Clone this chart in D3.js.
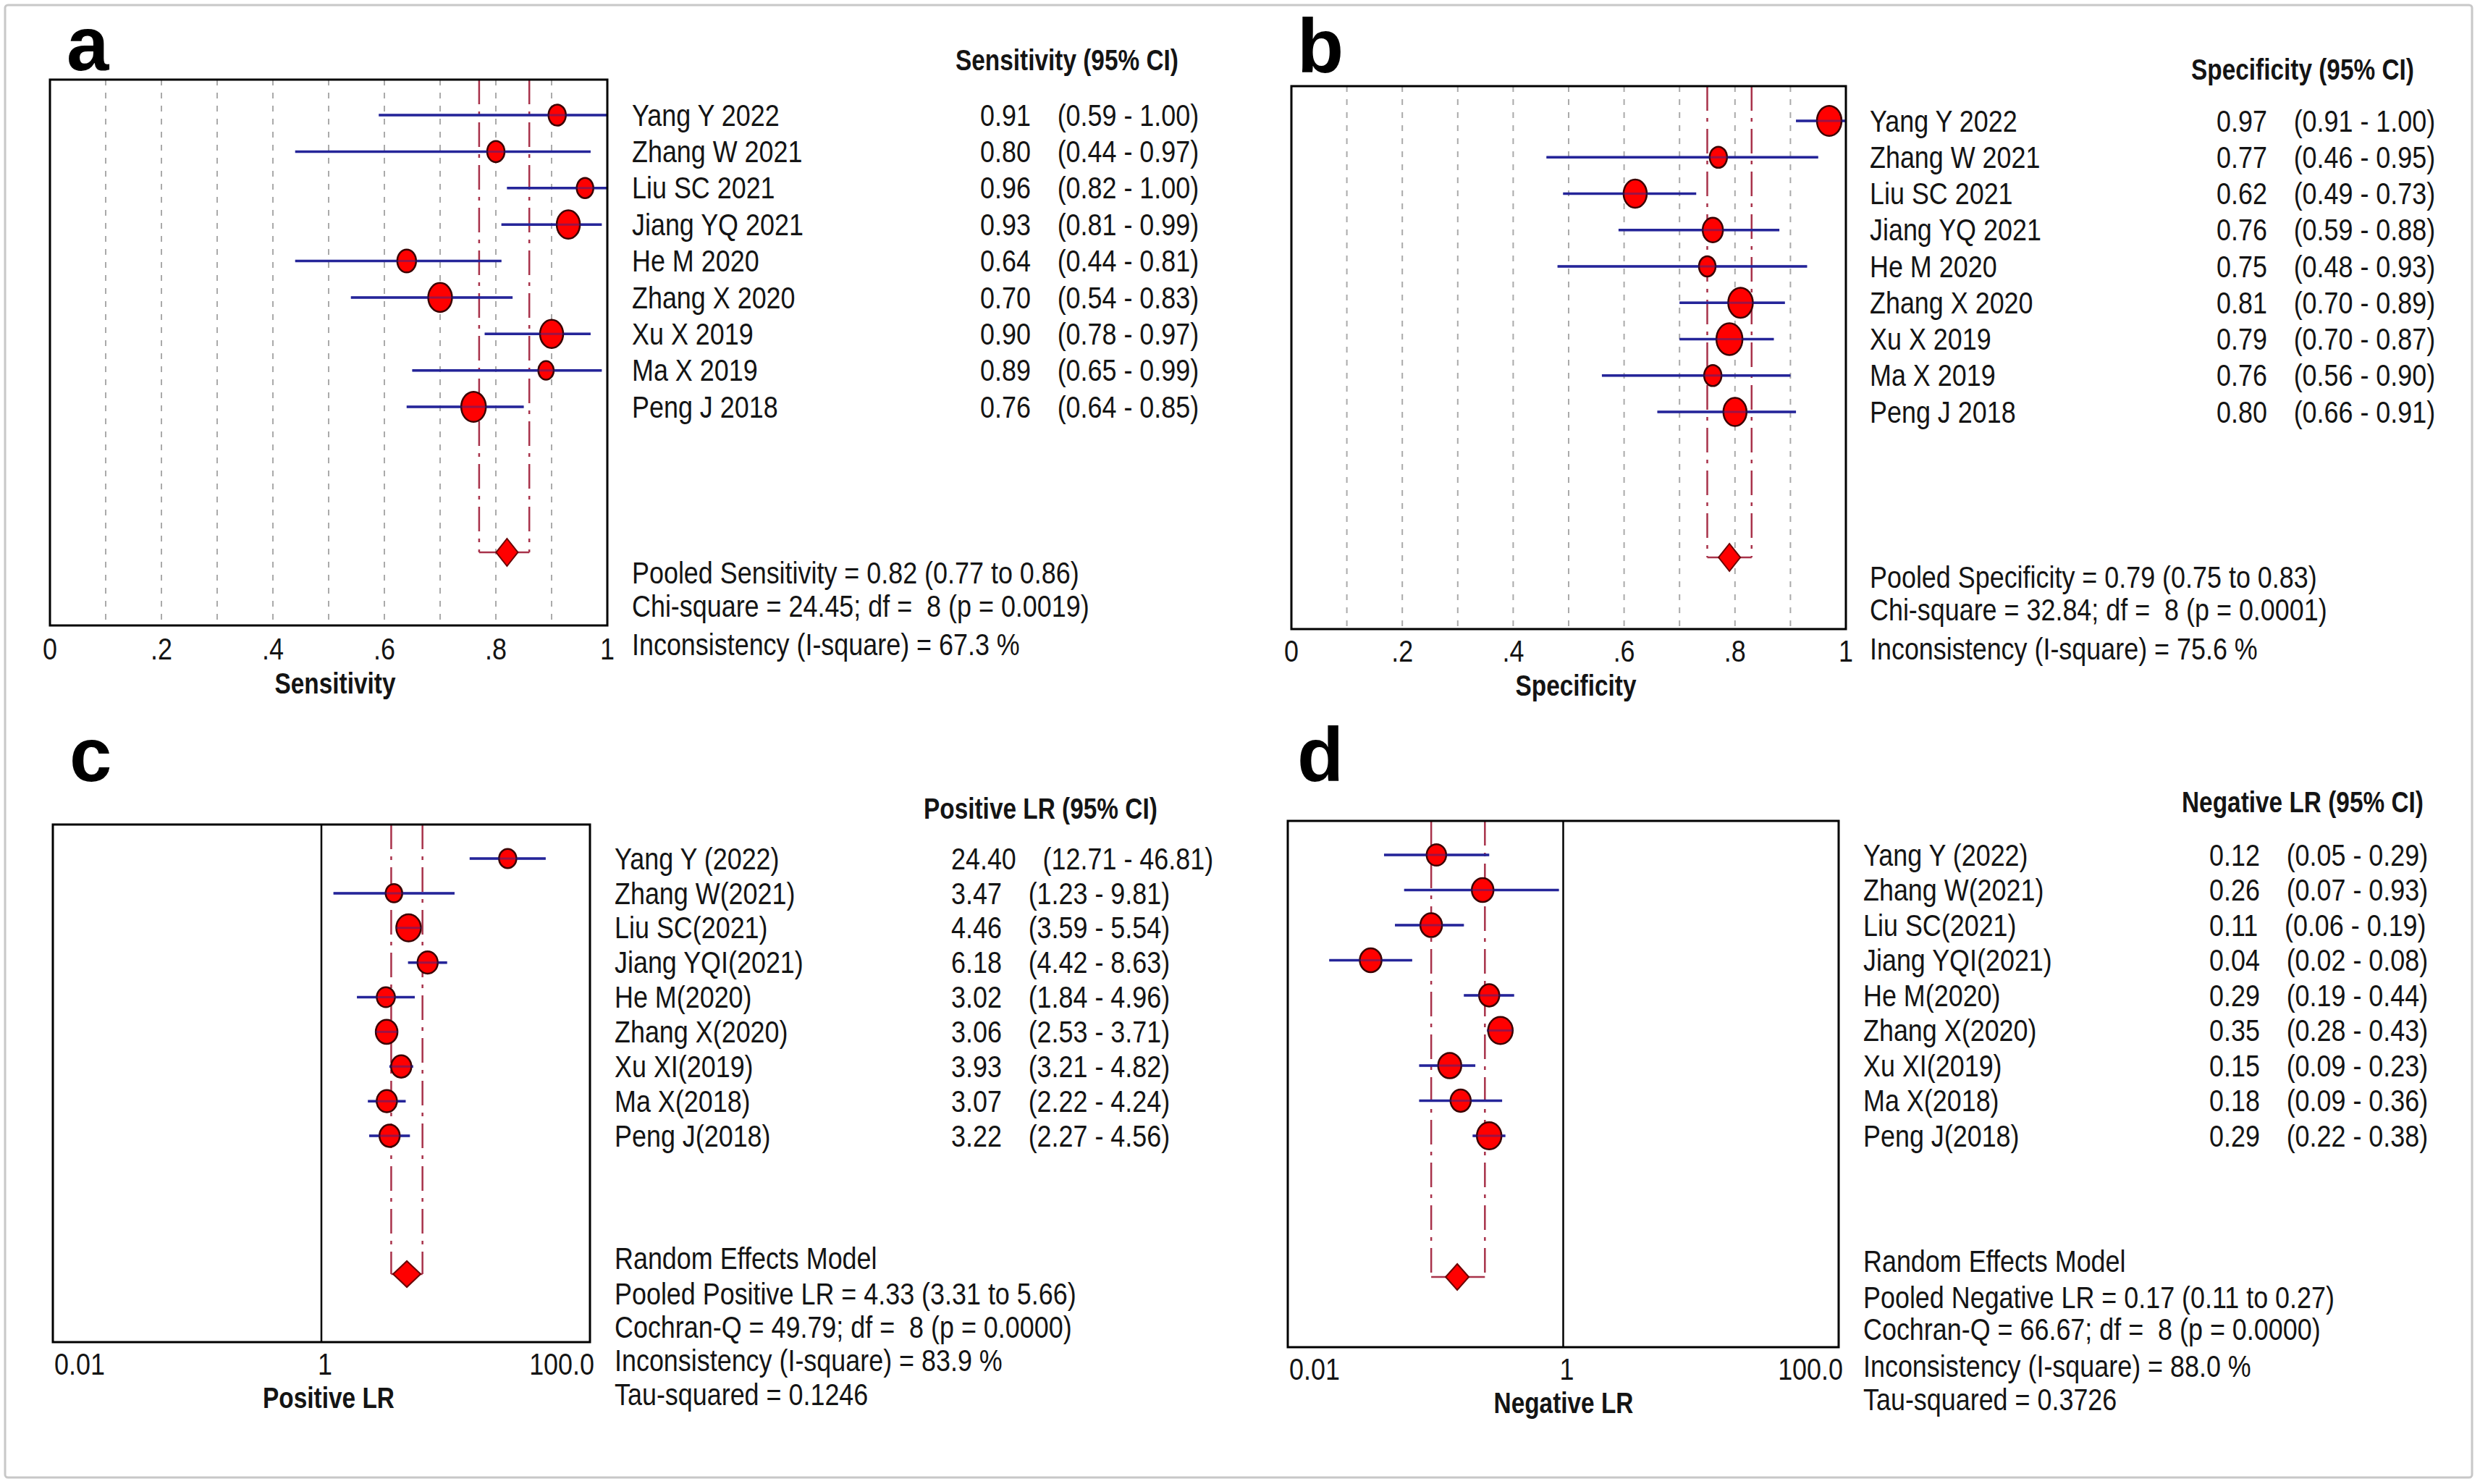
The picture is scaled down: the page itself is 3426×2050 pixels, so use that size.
<!DOCTYPE html>
<html>
<head>
<meta charset="utf-8">
<script src="https://cdn.jsdelivr.net/npm/d3@7"></script>
<style>
  html, body { margin: 0; padding: 0; background: #fff; }
  text { font-family: "Liberation Sans", Arial, sans-serif; white-space: pre; }
</style>
</head>
<body>
<svg id="fig" width="3426" height="2050"></svg>
<script>
// ---- data ----
var studiesAB = ["Yang Y 2022", "Zhang W 2021", "Liu SC 2021", "Jiang YQ 2021", "He M 2020",
  "Zhang X 2020", "Xu X 2019", "Ma X 2019", "Peng J 2018"];
var studiesCD = ["Yang Y (2022)", "Zhang W(2021)", "Liu SC(2021)", "Jiang YQI(2021)", "He M(2020)",
  "Zhang X(2020)", "Xu XI(2019)", "Ma X(2018)", "Peng J(2018)"];

var sensEst = [0.91, 0.80, 0.96, 0.93, 0.64, 0.70, 0.90, 0.89, 0.76];
var sensLow = [0.59, 0.44, 0.82, 0.81, 0.44, 0.54, 0.78, 0.65, 0.64];
var sensHigh = [1.00, 0.97, 1.00, 0.99, 0.81, 0.83, 0.97, 0.99, 0.85];
var sensWeight = [7.4, 7.4, 6.8, 13.2, 8.7, 13.9, 13.2, 5.8, 14.9];
var sensPooled = [0.82, 0.77, 0.86];
var sensStats = ["Pooled Sensitivity = 0.82 (0.77 to 0.86)",
  "Chi-square = 24.45; df =  8 (p = 0.0019)",
  "Inconsistency (I-square) = 67.3 %"];

var specEst = [0.97, 0.77, 0.62, 0.76, 0.75, 0.81, 0.79, 0.76, 0.80];
var specLow = [0.91, 0.46, 0.49, 0.59, 0.48, 0.70, 0.70, 0.56, 0.66];
var specHigh = [1.00, 0.95, 0.73, 0.88, 0.93, 0.89, 0.87, 0.90, 0.91];
var specWeight = [14.9, 7.4, 13.2, 10.1, 6.8, 14.9, 16.7, 7.4, 13.2];
var specPooled = [0.79, 0.75, 0.83];
var specStats = ["Pooled Specificity = 0.79 (0.75 to 0.83)",
  "Chi-square = 32.84; df =  8 (p = 0.0001)",
  "Inconsistency (I-square) = 75.6 %"];

var plrEst = [24.40, 3.47, 4.46, 6.18, 3.02, 3.06, 3.93, 3.07, 3.22];
var plrLow = [12.71, 1.23, 3.59, 4.42, 1.84, 2.53, 3.21, 2.22, 2.27];
var plrHigh = [46.81, 9.81, 5.54, 8.63, 4.96, 3.71, 4.82, 4.24, 4.56];
var plrWeight = [7.4, 6.8, 14.9, 10.1, 8.1, 11.6, 10.1, 10.1, 10.1];
var plrPooled = [4.33, 3.31, 5.66];
var plrStats = ["Random Effects Model",
  "Pooled Positive LR = 4.33 (3.31 to 5.66)",
  "Cochran-Q = 49.79; df =  8 (p = 0.0000)",
  "Inconsistency (I-square) = 83.9 %",
  "Tau-squared = 0.1246"];

var nlrEst = [0.12, 0.26, 0.11, 0.04, 0.29, 0.35, 0.15, 0.18, 0.29];
var nlrLow = [0.05, 0.07, 0.06, 0.02, 0.19, 0.28, 0.09, 0.09, 0.22];
var nlrHigh = [0.29, 0.93, 0.19, 0.08, 0.44, 0.43, 0.23, 0.36, 0.38];
var nlrWeight = [9.4, 11.6, 11.6, 11.6, 10.1, 14.9, 13.2, 10.1, 14.9];
var nlrPooled = [0.17, 0.11, 0.27];
var nlrStats = ["Random Effects Model",
  "Pooled Negative LR = 0.17 (0.11 to 0.27)",
  "Cochran-Q = 66.67; df =  8 (p = 0.0000)",
  "Inconsistency (I-square) = 88.0 %",
  "Tau-squared = 0.3726"];

var propTicks = [0, 0.2, 0.4, 0.6, 0.8, 1];
var propTickLabels = ["0", ".2", ".4", ".6", ".8", "1"];
var propGrid = [0.1, 0.2, 0.3, 0.4, 0.5, 0.6, 0.7, 0.8, 0.9];
var lrTicks = [0.01, 1, 100];
var lrTickLabels = ["0.01", "1", "100.0"];

// ---- drawing ----
var svg = d3.select("#fig");
var ciBlue = "#25259a";
var pooledRed = "#a8324a";
var ink = "#141414";
var radius = d3.scaleSqrt().domain([0, 20]).range([0, 19.7]);

svg.append("rect")
  .attr("x", 7).attr("y", 7).attr("width", 3408).attr("height", 2034)
  .attr("rx", 4).attr("fill", "#fff")
  .attr("stroke", "#c8c8c8").attr("stroke-width", 3);

function txt(g, x, y, s, o) {
  o = o || {};
  return g.append("text")
    .attr("transform", "translate(" + x + "," + y + ") scale(" + (o.sx || 0.855) + ",1)")
    .attr("dy", "0.35em")
    .attr("font-size", o.size || 42)
    .attr("font-weight", o.bold ? "bold" : null)
    .attr("text-anchor", o.anchor || "start")
    .attr("fill", ink)
    .text(s);
}

function ciText(lo, hi) {
  return "(" + lo.toFixed(2) + " - " + hi.toFixed(2) + ")";
}

function drawPanel(cfg) {
  var g = svg.append("g");
  var x = cfg.log
    ? d3.scaleLog().domain([0.01, 100]).range([cfg.x0, cfg.x1])
    : d3.scaleLinear().domain([0, 1]).range([cfg.x0, cfg.x1]);
  var y = d3.scalePoint().domain(cfg.studies).range([cfg.rowTop, cfg.rowBottom]);

  // panel letter
  g.append("text")
    .attr("x", cfg.letterX).attr("y", cfg.letterY)
    .attr("font-family", "'Open Sans', sans-serif")
    .attr("font-weight", "bold")
    .attr("font-size", 105)
    .attr("fill", "#000")
    .text(cfg.letter);

  // gridlines (proportion panels) or the line of no effect (LR panels)
  if (!cfg.log) {
    g.selectAll(".grid").data(propGrid).enter().append("line")
      .attr("x1", function (d) { return x(d); })
      .attr("x2", function (d) { return x(d); })
      .attr("y1", cfg.y0).attr("y2", cfg.y1)
      .attr("stroke", "#aaaaaa").attr("stroke-width", 2)
      .attr("stroke-dasharray", "8,10");
  } else {
    g.append("line")
      .attr("x1", x(1)).attr("x2", x(1))
      .attr("y1", cfg.y0).attr("y2", cfg.y1)
      .attr("stroke", "#000").attr("stroke-width", 2.5);
  }

  // pooled CI guide lines
  var pooled = cfg.pooled;
  [pooled[1], pooled[2]].forEach(function (v) {
    g.append("line")
      .attr("x1", x(v)).attr("x2", x(v))
      .attr("y1", cfg.y0).attr("y2", cfg.pooledY)
      .attr("stroke", pooledRed).attr("stroke-width", 2.5)
      .attr("stroke-dasharray", "34,10,5,10");
  });
  g.append("line")
    .attr("x1", x(pooled[1])).attr("x2", x(pooled[2]))
    .attr("y1", cfg.pooledY).attr("y2", cfg.pooledY)
    .attr("stroke", pooledRed).attr("stroke-width", 2.5);

  var rows = cfg.studies.map(function (s, i) {
    return { name: s, est: cfg.est[i], lo: cfg.lo[i], hi: cfg.hi[i], w: cfg.weight[i] };
  });

  // CI bars
  g.selectAll(".ci").data(rows).enter().append("line")
    .attr("x1", function (d) { return x(d.lo); })
    .attr("x2", function (d) { return x(d.hi); })
    .attr("y1", function (d) { return y(d.name); })
    .attr("y2", function (d) { return y(d.name); })
    .attr("stroke", ciBlue).attr("stroke-width", 3.5);

  // study markers
  g.selectAll(".pt").data(rows).enter().append("ellipse")
    .attr("cx", function (d) { return x(d.est); })
    .attr("cy", function (d) { return y(d.name); })
    .attr("rx", function (d) { return radius(d.w); })
    .attr("ry", function (d) { return radius(d.w) * cfg.aspect; })
    .attr("fill", "#ff0000").attr("stroke", "#3a0000").attr("stroke-width", 2.5);

  g.selectAll(".ci2").data(rows).enter().append("line")
    .attr("x1", function (d) { return x(d.lo); })
    .attr("x2", function (d) { return x(d.hi); })
    .attr("y1", function (d) { return y(d.name); })
    .attr("y2", function (d) { return y(d.name); })
    .attr("stroke", ciBlue).attr("stroke-width", 3).attr("stroke-opacity", 0.45);

  // pooled diamond
  var px = x(pooled[0]), py = cfg.pooledY;
  g.append("polygon")
    .attr("points", [[px, py - cfg.dh], [px + cfg.dw, py], [px, py + cfg.dh], [px - cfg.dw, py]]
      .map(function (p) { return p.join(","); }).join(" "))
    .attr("fill", "#ff0000").attr("stroke", "#6a0000").attr("stroke-width", 2);

  // frame
  g.append("rect")
    .attr("x", cfg.x0).attr("y", cfg.y0)
    .attr("width", cfg.x1 - cfg.x0).attr("height", cfg.y1 - cfg.y0)
    .attr("fill", "none").attr("stroke", "#000").attr("stroke-width", 3);

  // tick labels
  if (!cfg.log) {
    propTicks.forEach(function (v, i) {
      txt(g, x(v), cfg.tickY, propTickLabels[i], { anchor: "middle" });
    });
  } else {
    txt(g, x(lrTicks[0]) + 2, cfg.tickY, lrTickLabels[0], { anchor: "start" });
    txt(g, x(lrTicks[1]) + 5, cfg.tickY, lrTickLabels[1], { anchor: "middle" });
    txt(g, x(lrTicks[2]) + 6, cfg.tickY, lrTickLabels[2], { anchor: "end" });
  }
  txt(g, cfg.titleX, cfg.titleY, cfg.title, { anchor: "middle", bold: true, size: 40, sx: 0.835 });

  // right-hand table
  txt(g, cfg.headX, cfg.headY, cfg.head, { bold: true, size: 40, sx: 0.835 });
  rows.forEach(function (d) {
    var yy = y(d.name);
    txt(g, cfg.nameX, yy, d.name);
    var t = txt(g, cfg.estX, yy, "");
    t.append("tspan").text(d.est.toFixed(2));
    t.append("tspan").attr("dx", 43).text(ciText(d.lo, d.hi));
  });
  cfg.stats.forEach(function (s, i) {
    txt(g, cfg.nameX, cfg.statsY[i], s);
  });
}

drawPanel({
  letter: "a", letterX: 92, letterY: 97,
  log: false, x0: 69, x1: 839, y0: 110, y1: 864,
  studies: studiesAB, rowTop: 159, rowBottom: 562,
  est: sensEst, lo: sensLow, hi: sensHigh, weight: sensWeight, aspect: 1.22,
  pooled: sensPooled, pooledY: 763, dw: 15, dh: 19,
  tickY: 896, title: "Sensitivity", titleX: 463, titleY: 944,
  head: "Sensitivity (95% CI)", headX: 1320, headY: 83,
  nameX: 873, estX: 1354,
  stats: sensStats, statsY: [791, 837, 890]
});

drawPanel({
  letter: "b", letterX: 1792, letterY: 100,
  log: false, x0: 1784, x1: 2550, y0: 119, y1: 869,
  studies: studiesAB, rowTop: 167, rowBottom: 569,
  est: specEst, lo: specLow, hi: specHigh, weight: specWeight, aspect: 1.22,
  pooled: specPooled, pooledY: 770, dw: 15, dh: 19,
  tickY: 899, title: "Specificity", titleX: 2177, titleY: 947,
  head: "Specificity (95% CI)", headX: 3027, headY: 96,
  nameX: 2583, estX: 3062,
  stats: specStats, statsY: [797, 842, 896]
});

drawPanel({
  letter: "c", letterX: 96, letterY: 1079,
  log: true, x0: 73, x1: 815, y0: 1139, y1: 1854,
  studies: studiesCD, rowTop: 1186, rowBottom: 1569,
  est: plrEst, lo: plrLow, hi: plrHigh, weight: plrWeight, aspect: 1.1,
  pooled: plrPooled, pooledY: 1760, dw: 19, dh: 18,
  tickY: 1884, title: "Positive LR", titleX: 454, titleY: 1931,
  head: "Positive LR (95% CI)", headX: 1276, headY: 1117,
  nameX: 849, estX: 1314,
  stats: plrStats, statsY: [1738, 1787, 1833, 1879, 1926]
});

drawPanel({
  letter: "d", letterX: 1792, letterY: 1079,
  log: true, x0: 1779, x1: 2540, y0: 1134, y1: 1861,
  studies: studiesCD, rowTop: 1181, rowBottom: 1569,
  est: nlrEst, lo: nlrLow, hi: nlrHigh, weight: nlrWeight, aspect: 1.1,
  pooled: nlrPooled, pooledY: 1764, dw: 16, dh: 18,
  tickY: 1891, title: "Negative LR", titleX: 2160, titleY: 1938,
  head: "Negative LR (95% CI)", headX: 3014, headY: 1108,
  nameX: 2574, estX: 3052,
  stats: nlrStats, statsY: [1742, 1792, 1836, 1887, 1933]
});
</script>
</body>
</html>
